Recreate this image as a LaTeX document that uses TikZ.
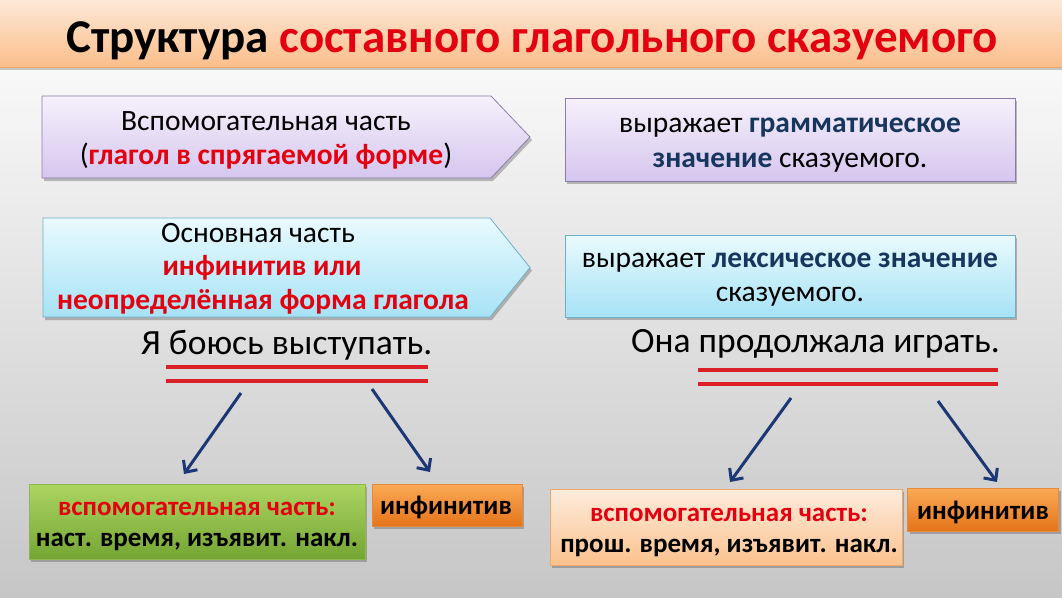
\documentclass[tikz,border=0pt]{standalone}
\usepackage{fontspec}
\setmainfont{Carlito}
\usetikzlibrary{shadows,arrows.meta}
\definecolor{bgbot}{HTML}{C6C6C6}
\definecolor{bgmid}{HTML}{E8E8E8}
\definecolor{titletop}{HTML}{FDE8D6}
\definecolor{titlebot}{HTML}{FBBE8A}
\definecolor{titleline}{HTML}{F0A868}
\definecolor{tred}{HTML}{E3000F}
\definecolor{navy}{HTML}{17365D}
\definecolor{purtop}{HTML}{F6F1FC}
\definecolor{purbot}{HTML}{D5C6EE}
\definecolor{purline}{HTML}{8C7BAA}
\definecolor{cyantop}{HTML}{E9FAFE}
\definecolor{cyanbot}{HTML}{A6E2F5}
\definecolor{cyanline}{HTML}{6DB0CC}
\definecolor{ulred}{HTML}{DB1F26}
\definecolor{arrowblue}{HTML}{1B3775}
\definecolor{grtop}{HTML}{ADD562}
\definecolor{grbot}{HTML}{74A533}
\definecolor{grline}{HTML}{8EB84E}
\definecolor{ortop}{HTML}{FBAA57}
\definecolor{orbot}{HTML}{E5741A}
\definecolor{orline}{HTML}{E58A3A}
\definecolor{pchtop}{HTML}{FDECDC}
\definecolor{pchbot}{HTML}{FBC28E}
\definecolor{pchline}{HTML}{F2A86A}
\begin{document}
\begin{tikzpicture}[x=1pt,y=-1pt,
  shad/.style={drop shadow={shadow xshift=2pt,shadow yshift=-3pt,opacity=0.35,fill=black!70}},
  purplebox/.style={shad,top color=purtop,bottom color=purbot,draw=purline,line width=0.8pt},
  cyanbox/.style={shad,top color=cyantop,bottom color=cyanbot,draw=cyanline,line width=0.8pt},
  greenbox/.style={shad,top color=grtop,bottom color=grbot,draw=grline,line width=0.8pt},
  orangebox/.style={shad,top color=ortop,bottom color=orbot,draw=orline,line width=0.8pt},
  peachbox/.style={shad,top color=pchtop,bottom color=pchbot,draw=pchline,line width=0.8pt},
  bodytext/.style={font=\fontsize{29.5}{34}\selectfont,inner sep=0pt,anchor=base},
  smalltext/.style={font=\fontsize{27}{31}\selectfont\bfseries,inner sep=0pt,anchor=base},
  sentence/.style={font=\fontsize{35.5}{40}\selectfont,inner sep=0pt,anchor=base west},
  underline/.style={draw=ulred,line width=3.6pt},
  link/.style={draw=arrowblue,line width=3pt,-{Straight Barb[length=9pt,width=17pt,line width=3pt]}}
]
\useasboundingbox (0,0) rectangle (1062,597);
% background
\shade[top color=white,middle color=bgmid,bottom color=bgbot] (0,0) rectangle (1062,597);
% title
\path[drop shadow={shadow xshift=0pt,shadow yshift=-3pt,opacity=0.3,fill=black!70},top color=titletop,bottom color=titlebot] (0,0) rectangle (1062,67);
\draw[titleline,line width=1pt] (0,67) -- (1062,67);
\node[font=\fontsize{47}{52}\selectfont\bfseries,anchor=base,inner sep=0pt] (title) at (532,52)
  {Структура \textcolor{tred}{составного глагольного сказуемого}};

% auxiliary part (pentagon)
\path[purplebox] (42,96) -- (491,96) -- (530,137) -- (491,178) -- (42,178) -- cycle;
\node[bodytext] (aux1) at (266,130) {Вспомогательная часть};
\node[bodytext] (aux2) at (266,164) {(\textcolor{tred}{\bfseries глагол в спрягаемой форме})};
% grammatical meaning
\node[purplebox,minimum width=450,minimum height=83,inner sep=0pt] (gram) at (790,139.5) {};
\node[bodytext] (gram1) at (790,132) {выражает \textcolor{navy}{\bfseries грамматическое}};
\node[bodytext] (gram2) at (790,167) {\textcolor{navy}{\bfseries значение} сказуемого.};

% main part (pentagon)
\path[cyanbox] (43,218) -- (490,218) -- (530,267.5) -- (490,317) -- (43,317) -- cycle;
\node[bodytext] (main1) at (258,242) {Основная часть};
\node[bodytext] (main2) at (262,275.5) {\textcolor{tred}{\bfseries инфинитив или}};
\node[bodytext] (main3) at (263,309) {\textcolor{tred}{\bfseries неопределённая форма глагола}};
% lexical meaning
\node[cyanbox,minimum width=450,minimum height=82,inner sep=0pt] (lex) at (790,276) {};
\node[bodytext] (lex1) at (790,267) {выражает \textcolor{navy}{\bfseries лексическое значение}};
\node[bodytext] (lex2) at (790,301.5) {сказуемого.};

% example sentences
\node[sentence] (s1) at (141,354) {Я боюсь выступать.};
\node[sentence] (s2) at (631,352) {Она продолжала играть.};
\coordinate (u1a) at (166,367); \coordinate (u1b) at (428,367);
\coordinate (u1c) at (166,381); \coordinate (u1d) at (428,381);
\draw[underline] (u1a) -- (u1b);
\draw[underline] (u1c) -- (u1d);
\coordinate (u2a) at (698,370); \coordinate (u2b) at (998,370);
\coordinate (u2c) at (698,384); \coordinate (u2d) at (998,384);
\draw[underline] (u2a) -- (u2b);
\draw[underline] (u2c) -- (u2d);

% bottom boxes left
\node[greenbox,minimum width=336,minimum height=75,inner sep=0pt] (gaux) at (197,521.5) {};
\node[smalltext] (gaux1) at (197,515) {\textcolor{tred}{вспомогательная часть:}};
\node[smalltext] (gaux2) at (197,546) {наст. время, изъявит. накл.};
\node[orangebox,minimum width=150,minimum height=42,inner sep=0pt] (inf1) at (447,505) {};
\node[smalltext] (inf1t) at (446,514) {инфинитив};
% bottom boxes right
\node[peachbox,minimum width=352,minimum height=76,inner sep=0pt] (paux) at (726,527) {};
\node[smalltext] (paux1) at (729,521) {\textcolor{tred}{вспомогательная часть:}};
\node[smalltext] (paux2) at (729,552) {прош. время, изъявит. накл.};
\node[orangebox,minimum width=151,minimum height=43,inner sep=0pt] (inf2) at (983,509.5) {};
\node[smalltext] (inf2t) at (983,519) {инфинитив};

% arrows
\coordinate (a1s) at (241,393); \coordinate (a1e) at (184,474);
\coordinate (a2s) at (372,389); \coordinate (a2e) at (430,472);
\coordinate (a3s) at (791,398); \coordinate (a3e) at (730,482);
\coordinate (a4s) at (938,401); \coordinate (a4e) at (997,482);
\draw[link] (a1s) -- (a1e);
\draw[link] (a2s) -- (a2e);
\draw[link] (a3s) -- (a3e);
\draw[link] (a4s) -- (a4e);
\end{tikzpicture}
\end{document}
